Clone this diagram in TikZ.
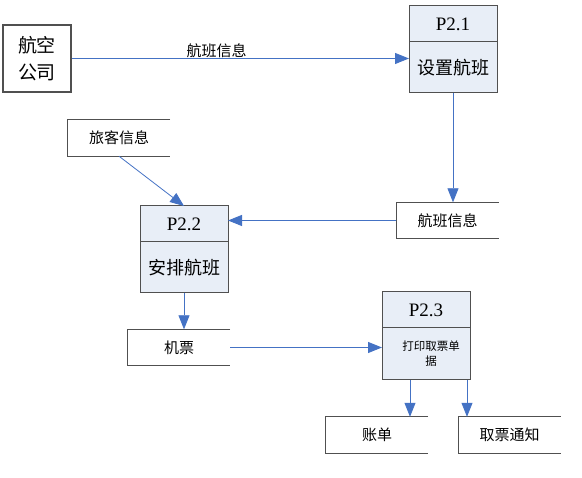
\documentclass[tikz,border=0pt]{standalone}
\usepackage{fontspec}
\setmainfont{Liberation Serif}
\newfontfamily\cjk{Noto Sans CJK SC}
\usetikzlibrary{arrows.meta, positioning}
\definecolor{procfill}{HTML}{E8EEF7}
\definecolor{arrblue}{HTML}{4472C4}
\definecolor{edgegray}{HTML}{505050}

\begin{document}
\begin{tikzpicture}[x=1pt, y=-1pt,
  ext/.style={rectangle, draw=edgegray, line width=1.2pt, fill=white,
              minimum width=68pt, minimum height=67pt, inner sep=0pt,
              align=center, font=\cjk\fontsize{19}{27}\selectfont},
  ptitle/.style={rectangle, draw=edgegray, line width=1pt, fill=procfill,
                 minimum width=88pt, minimum height=36pt, inner sep=0pt, outer sep=0pt,
                 font=\fontsize{19}{20}\selectfont},
  pbody/.style={rectangle, draw=edgegray, line width=1pt, fill=procfill,
                minimum width=88pt, minimum height=51pt, inner sep=0pt, outer sep=0pt,
                align=center, font=\cjk\fontsize{18}{20}\selectfont},
  store/.style={rectangle, minimum width=102pt, minimum height=36pt, inner sep=0pt,
                font=\cjk\fontsize{15}{18}\selectfont},
  storeline/.style={draw=edgegray, line width=1.2pt},
  arr/.style={-{Triangle[length=14pt, width=11pt]}, draw=arrblue, line width=0.8pt}
]
\useasboundingbox (0,0) rectangle (582,478);

% external entity
\node[ext] (air) at (37,58.5) {航空\\公司};

% processes
\node[ptitle] (p21t) at (453,24) {P2.1};
\node[pbody, below=0pt of p21t] (p21) {设置航班};
\node[ptitle] (p22t) at (184,224) {P2.2};
\node[pbody, below=0pt of p22t] (p22) {安排航班};
\node[ptitle] (p23t) at (426,310) {P2.3};
\node[pbody, below=0pt of p23t, minimum height=52pt,
      font=\cjk\fontsize{11.5}{15}\selectfont] (p23) {\hspace*{10pt}打印取票单\\\hspace*{10pt}据};

% data stores
\node[store] (pass)   at (119,138)   {旅客信息};
\node[store] (fstore) at (447.5,220.5) {航班信息};
\node[store] (ticket) at (179,347.5) {机票};
\node[store] (bill)   at (377,435)   {账单};
\node[store] (notice) at (509.5,435) {取票通知};
\foreach \s in {pass,fstore,ticket,bill,notice}
  \draw[storeline] (\s.north east) -- (\s.north west) -- (\s.south west) -- (\s.south east);

% flows
\draw[arr] (air.east) -- node[above, pos=0.43, inner sep=0pt, text=black,
  font=\cjk\fontsize{15}{18}\selectfont] (lbl) {航班信息} (air.east -| p21.west);
\draw[arr] (p21.south) -- (p21.south |- fstore.north);
\draw[arr] (fstore.west) -- (fstore.west -| p22t.east);
\draw[arr] (pass.south) -- (p22t.north);
\draw[arr] (p22.south) -- (p22.south |- ticket.north);
\draw[arr] (ticket.east) -- (ticket.east -| p23.west);
\draw[arr] ([xshift=-16pt]p23.south) -- ([xshift=-16pt]p23.south |- bill.north);
\draw[arr] ([xshift=-3pt]p23.south east) -- ([xshift=-3pt]p23.south east |- notice.north);
\end{tikzpicture}
\end{document}
